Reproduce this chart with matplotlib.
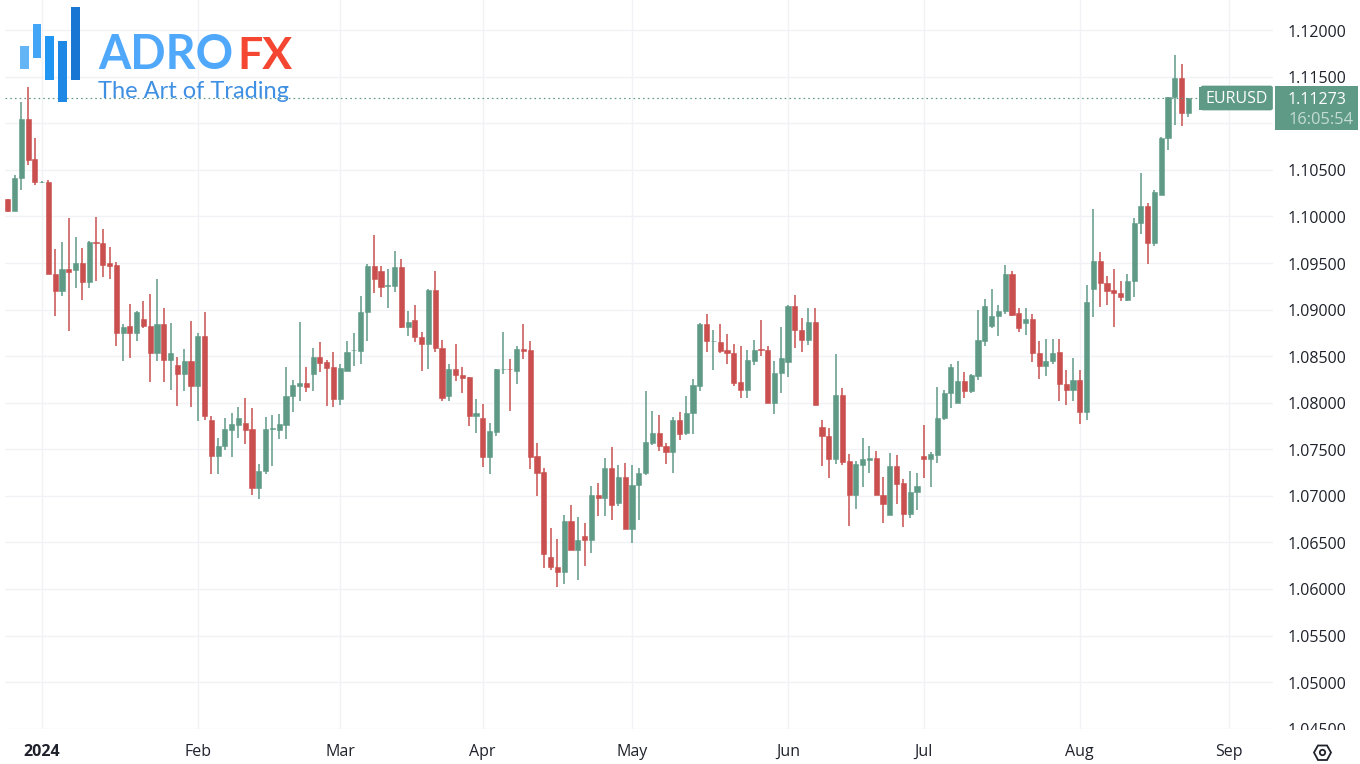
import matplotlib
matplotlib.use("Agg")
import matplotlib.pyplot as plt
from matplotlib.patches import Rectangle, FancyBboxPatch, Polygon, Circle

# ---- data ----
opens = [1.10186,1.10061,1.10418,1.11046,1.10614,1.10368,1.10368,1.09382,1.09204,1.09436,
 1.09425,1.09496,1.09300,1.09729,1.09711,1.09500,1.09479,1.08746,1.08821,1.08754,
 1.08896,1.08825,1.08529,1.08846,1.08457,1.08404,1.08304,1.08450,1.08175,1.08714,
 1.07818,1.07425,1.07539,1.07711,1.07764,1.07782,1.07718,1.07082,1.07271,1.07721,
 1.07704,1.07761,1.08068,1.08179,1.08214,1.08311,1.08496,1.08432,1.08379,1.08043,
 1.08336,1.08561,1.08557,1.08971,1.09471,1.09418,1.09254,1.09250,1.09461,1.08818,
 1.08893,1.08711,1.08636,1.09214,1.08593,1.08068,1.08361,1.08300,1.08271,1.07857,
 1.07832,1.07418,1.07686,1.08357,1.08364,1.08336,1.08582,1.08561,1.07429,1.07257,
 1.06340,1.06239,1.06179,1.06732,1.06421,1.06571,1.06529,1.07011,1.06982,1.07296,
 1.06921,1.07204,1.06646,1.07118,1.07243,1.07568,1.07675,1.07539,1.07471,1.07814,
 1.07671,1.07886,1.08182,1.08843,1.08661,1.08657,1.08561,1.08529,1.08218,1.08139,
 1.08450,1.08579,1.08564,1.08000,1.08314,1.08440,1.09036,1.08786,1.08671,1.08871,
 1.07739,1.07643,1.07396,1.08082,1.07371,1.07004,1.07336,1.07389,1.07407,1.07011,
 1.06796,1.07321,1.07136,1.06800,1.07036,1.07432,1.07396,1.07443,1.07832,1.08104,
 1.07993,1.08232,1.08125,1.08289,1.08664,1.08821,1.08929,1.08989,1.09383,1.08961,
 1.08857,1.08904,1.08532,1.08393,1.08443,1.08544,1.08197,1.08132,1.08247,1.07900,
 1.09220,1.09517,1.09288,1.09206,1.09181,1.09098,1.09302,1.09928,1.10118,1.09714,
 1.10236,1.10841,1.11281,1.11488,1.11109]
highs = [1.10186,1.10446,1.11225,1.11393,1.10843,1.10380,1.10389,1.09654,1.09721,1.09979,
 1.09782,1.09657,1.09732,1.09993,1.09868,1.09668,1.09507,1.08846,1.09061,1.08982,
 1.09093,1.09164,1.09325,1.09014,1.08854,1.08496,1.08575,1.08875,1.08746,1.08971,
 1.07861,1.07621,1.07836,1.07889,1.07954,1.08050,1.07943,1.07343,1.07846,1.07864,
 1.07882,1.08379,1.08239,1.08871,1.08389,1.08593,1.08650,1.08454,1.08550,1.08418,
 1.08661,1.08754,1.09150,1.09489,1.09804,1.09471,1.09432,1.09632,1.09543,1.08989,
 1.09054,1.08764,1.09221,1.09418,1.08675,1.08418,1.08632,1.08389,1.08271,1.08043,
 1.07982,1.07782,1.08364,1.08761,1.08471,1.08614,1.08846,1.08661,1.07564,1.07296,
 1.06654,1.06539,1.06796,1.06900,1.06771,1.06707,1.07111,1.07143,1.07404,1.07521,
 1.07329,1.07357,1.07329,1.07296,1.08121,1.07911,1.07868,1.07564,1.07846,1.07900,
 1.08068,1.08254,1.08857,1.08950,1.08779,1.08843,1.08739,1.08636,1.08607,1.08571,
 1.08671,1.08886,1.08607,1.08450,1.08814,1.09050,1.09154,1.08911,1.09014,1.09014,
 1.07814,1.07725,1.08518,1.08154,1.07450,1.07379,1.07618,1.07536,1.07486,1.07204,
 1.07464,1.07439,1.07179,1.07268,1.07243,1.07761,1.07471,1.08168,1.08136,1.08421,
 1.08450,1.08325,1.08307,1.08993,1.09111,1.09225,1.09046,1.09479,1.09415,1.09014,
 1.09021,1.08957,1.08661,1.08689,1.08679,1.08687,1.08354,1.08483,1.08347,1.09259,
 1.10082,1.09624,1.09356,1.09438,1.09302,1.09385,1.09986,1.10469,1.10147,1.10286,
 1.10855,1.11288,1.11732,1.11639,1.11276]
lows = [1.10046,1.10058,1.10286,1.10554,1.10339,1.10360,1.09382,1.08932,1.09146,1.08771,
 1.09229,1.09104,1.09229,1.09307,1.09354,1.09332,1.08614,1.08450,1.08475,1.08661,
 1.08800,1.08218,1.08443,1.08218,1.08136,1.07961,1.08121,1.07950,1.07800,1.07811,
 1.07232,1.07232,1.07496,1.07414,1.07621,1.07561,1.07007,1.06961,1.07232,1.07318,
 1.07614,1.07614,1.07900,1.08014,1.08114,1.08121,1.08329,1.07961,1.07954,1.07979,
 1.08336,1.08396,1.08418,1.08668,1.09175,1.09136,1.09014,1.09189,1.08804,1.08721,
 1.08654,1.08339,1.08357,1.08550,1.08014,1.08014,1.08232,1.08104,1.07746,1.07675,
 1.07311,1.07239,1.07639,1.08311,1.07911,1.08204,1.08471,1.07289,1.06993,1.06229,
 1.06200,1.06018,1.06057,1.06414,1.06100,1.06243,1.06386,1.06786,1.06786,1.06736,
 1.06896,1.06646,1.06493,1.06743,1.07221,1.07543,1.07479,1.07346,1.07243,1.07600,
 1.07657,1.07664,1.08129,1.08546,1.08350,1.08536,1.08421,1.08179,1.08046,1.08054,
 1.08407,1.08500,1.08000,1.07879,1.08107,1.08279,1.08589,1.08546,1.08621,1.07971,
 1.07325,1.07196,1.07346,1.07329,1.06679,1.06861,1.07100,1.07250,1.07004,1.06707,
 1.06796,1.06907,1.06661,1.06764,1.06850,1.07196,1.07100,1.07357,1.07814,1.07943,
 1.07993,1.08050,1.08100,1.08243,1.08611,1.08800,1.08714,1.08950,1.08935,1.08757,
 1.08725,1.08439,1.08257,1.08286,1.08421,1.08018,1.07979,1.08018,1.07775,1.07818,
 1.08919,1.09027,1.09045,1.08812,1.09088,1.09091,1.09134,1.09814,1.09492,1.09682,
 1.10229,1.10716,1.10987,1.10977,1.11073]
closes = [1.10061,1.10418,1.11046,1.10607,1.10375,1.10375,1.09382,1.09204,1.09436,1.09407,
 1.09496,1.09300,1.09725,1.09718,1.09479,1.09468,1.08746,1.08818,1.08754,1.08975,
 1.08825,1.08529,1.08846,1.08457,1.08529,1.08304,1.08450,1.08175,1.08714,1.07861,
 1.07425,1.07539,1.07718,1.07771,1.07836,1.07711,1.07082,1.07271,1.07721,1.07732,
 1.07768,1.08071,1.08186,1.08214,1.08168,1.08496,1.08425,1.08371,1.08043,1.08368,
 1.08546,1.08571,1.08971,1.09471,1.09329,1.09246,1.09264,1.09461,1.08818,1.08868,
 1.08711,1.08636,1.09214,1.08586,1.08050,1.08361,1.08293,1.08264,1.07857,1.07886,
 1.07418,1.07693,1.08357,1.08364,1.08357,1.08582,1.08554,1.07421,1.07250,1.06379,
 1.06232,1.06179,1.06732,1.06421,1.06525,1.06529,1.07011,1.06982,1.07296,1.06904,
 1.07204,1.06646,1.07118,1.07246,1.07579,1.07675,1.07539,1.07471,1.07814,1.07664,
 1.07889,1.08189,1.08843,1.08661,1.08668,1.08557,1.08529,1.08214,1.08136,1.08457,
 1.08571,1.08568,1.08000,1.08314,1.08475,1.09036,1.08779,1.08671,1.08871,1.07971,
 1.07643,1.07396,1.08082,1.07368,1.07014,1.07343,1.07393,1.07407,1.07004,1.06907,
 1.07321,1.07129,1.06800,1.07036,1.07107,1.07396,1.07450,1.07836,1.08104,1.08382,
 1.08236,1.08125,1.08300,1.08671,1.09036,1.08929,1.08982,1.09383,1.08942,1.08804,
 1.08900,1.08529,1.08393,1.08446,1.08539,1.08204,1.08132,1.08247,1.07900,1.09077,
 1.09517,1.09284,1.09199,1.09177,1.09134,1.09302,1.09932,1.10118,1.09714,1.10261,
 1.10848,1.11288,1.11488,1.11109,1.11273]
month_labels = ["2024", "Feb", "Mar", "Apr", "May", "Jun", "Jul", "Aug", "Sep"]
month_index = [5, 28, 49, 70, 92, 115, 135, 158, 180]
price_ticks = [1.12, 1.115, 1.11, 1.105, 1.10, 1.095, 1.09, 1.085, 1.08, 1.075,
               1.07, 1.065, 1.06, 1.055, 1.05, 1.045]
price_labels = [1.12, 1.115, 1.105, 1.10, 1.095, 1.09, 1.085, 1.08, 1.075,
                1.07, 1.065, 1.06, 1.055, 1.05, 1.045]
symbol = "EURUSD"
last_price = 1.11273
countdown = "16:05:54"

# ---- styles ----
GREEN, RED, GRID = "#5f9a87", "#c9504f", "#f1f2f5"
TXT = "#1f222b"
FONT = "Open Sans"
plt.rcParams["font.family"] = [FONT, "DejaVu Sans"]
W, H = 1360, 764

fig = plt.figure(figsize=(W/100, H/100), dpi=100, facecolor="white")
ax = fig.add_axes([5/W, (H-729)/H, 1268/W, 729/H])
ax.set_xlim(-0.409, 186.47)
ax.set_ylim(1.04496, 1.12325)
ax.axis("off")

for p in price_ticks:
    ax.axhline(p, color=GRID, lw=1.0, zorder=1)
for i in month_index:
    ax.axvline(i, color=GRID, lw=1.0, zorder=1)

n = len(opens)
xs = list(range(n))
cols = [GREEN if closes[i] >= opens[i] else RED for i in xs]
ax.vlines(xs, lows, highs, colors=cols, lw=1.1, zorder=3)
ax.bar(xs, [abs(closes[i]-opens[i]) for i in xs], bottom=[min(opens[i], closes[i]) for i in xs],
       width=0.76, color=cols, edgecolor=cols, lw=0.4, zorder=4)
ax.plot([-0.409, 176.6], [last_price, last_price], color=GREEN, lw=0.85, ls=(0, (1.4, 2.6)), zorder=5)

# price scale (its labels are clipped at the bottom of the pane)
axp = fig.add_axes([1273/W, (H-730)/H, 87/W, 730/H])
axp.set_xlim(1273, 1360)
axp.set_ylim(ax.get_ylim()[0] - 1/9311, ax.get_ylim()[1])
axp.axis("off")
for p in price_labels:
    axp.text(1288, p - 0.5/9311, f"{p:.5f}", fontsize=11.5, color=TXT, va="center_baseline", ha="left", clip_on=True)

# overlay in pixel coordinates
ov = fig.add_axes([0, 0, 1, 1], zorder=10)
ov.set_xlim(0, W)
ov.set_ylim(H, 0)
ov.axis("off")
ov.patch.set_alpha(0)

for i, lab in zip(month_index, month_labels):
    px = 41.7 + 6.785*(i-5)
    ov.text(px, 752, lab, fontsize=11.5, color=TXT, ha="center", va="center",
            fontweight="bold" if lab == "2024" else "normal")

# last-price tags
ov.add_patch(FancyBboxPatch((1201, 86), 71.5, 24, boxstyle="round,pad=0,rounding_size=2",
                            fc=GREEN, ec=GREEN, lw=0.5, zorder=3))
ov.add_patch(Rectangle((1274.5, 86), 83.5, 43.5, fc=GREEN, ec="none", zorder=3))
ov.add_patch(Rectangle((1199, 86.5), 5, 23.5, fc=GREEN, ec="none", zorder=3))
ov.text(1237, 99, symbol, color="white", fontsize=11.5, ha="center", va="center", zorder=4)
ov.text(1288, 99.5, f"{last_price:.5f}", color="white", fontsize=11.5, ha="left", va="center", zorder=4)
ov.text(1288, 120, countdown, color="#c5dcd3", fontsize=11.8, ha="left", va="center", zorder=4)

# hexagon settings icon
ov.add_patch(Polygon([(1314, 752.5), (1318, 745.5), (1327, 745.5), (1331, 752.5), (1327, 760), (1318, 760)],
                     closed=True, fc="none", ec="#1f222b", lw=1.3))
ov.add_patch(Circle((1322.5, 752.5), 2.7, fc="none", ec="#1f222b", lw=1.3))

# logo
for x, y, w, h, c in [(20, 46, 8.5, 23, "#64b5f6"), (32.7, 24, 8.5, 33.5, "#42a5f5"),
                      (45.3, 36, 8.5, 44, "#2196f3"), (58.3, 41, 8.5, 61, "#1e88e5"),
                      (71, 7, 8.5, 73, "#1976d2")]:
    ov.add_patch(Rectangle((x, y), w, h, fc=c, ec="none", zorder=6))
ov.text(98, 69, "ADRO", family="Lato", fontweight="bold", fontsize=33.5, color="#50a8fb", ha="left",
        va="baseline", zorder=6)
ov.text(237, 69, "FX", family="Lato", fontweight="bold", fontsize=32, color="#f44631", ha="left",
        va="baseline", zorder=6)
ov.text(98, 98.5, "The Art of Trading", family="Lato", fontweight="normal", fontsize=17, color="#3f90e2",
        ha="left", va="baseline", zorder=6)

fig.savefig("out.png", dpi=100, facecolor="white")
